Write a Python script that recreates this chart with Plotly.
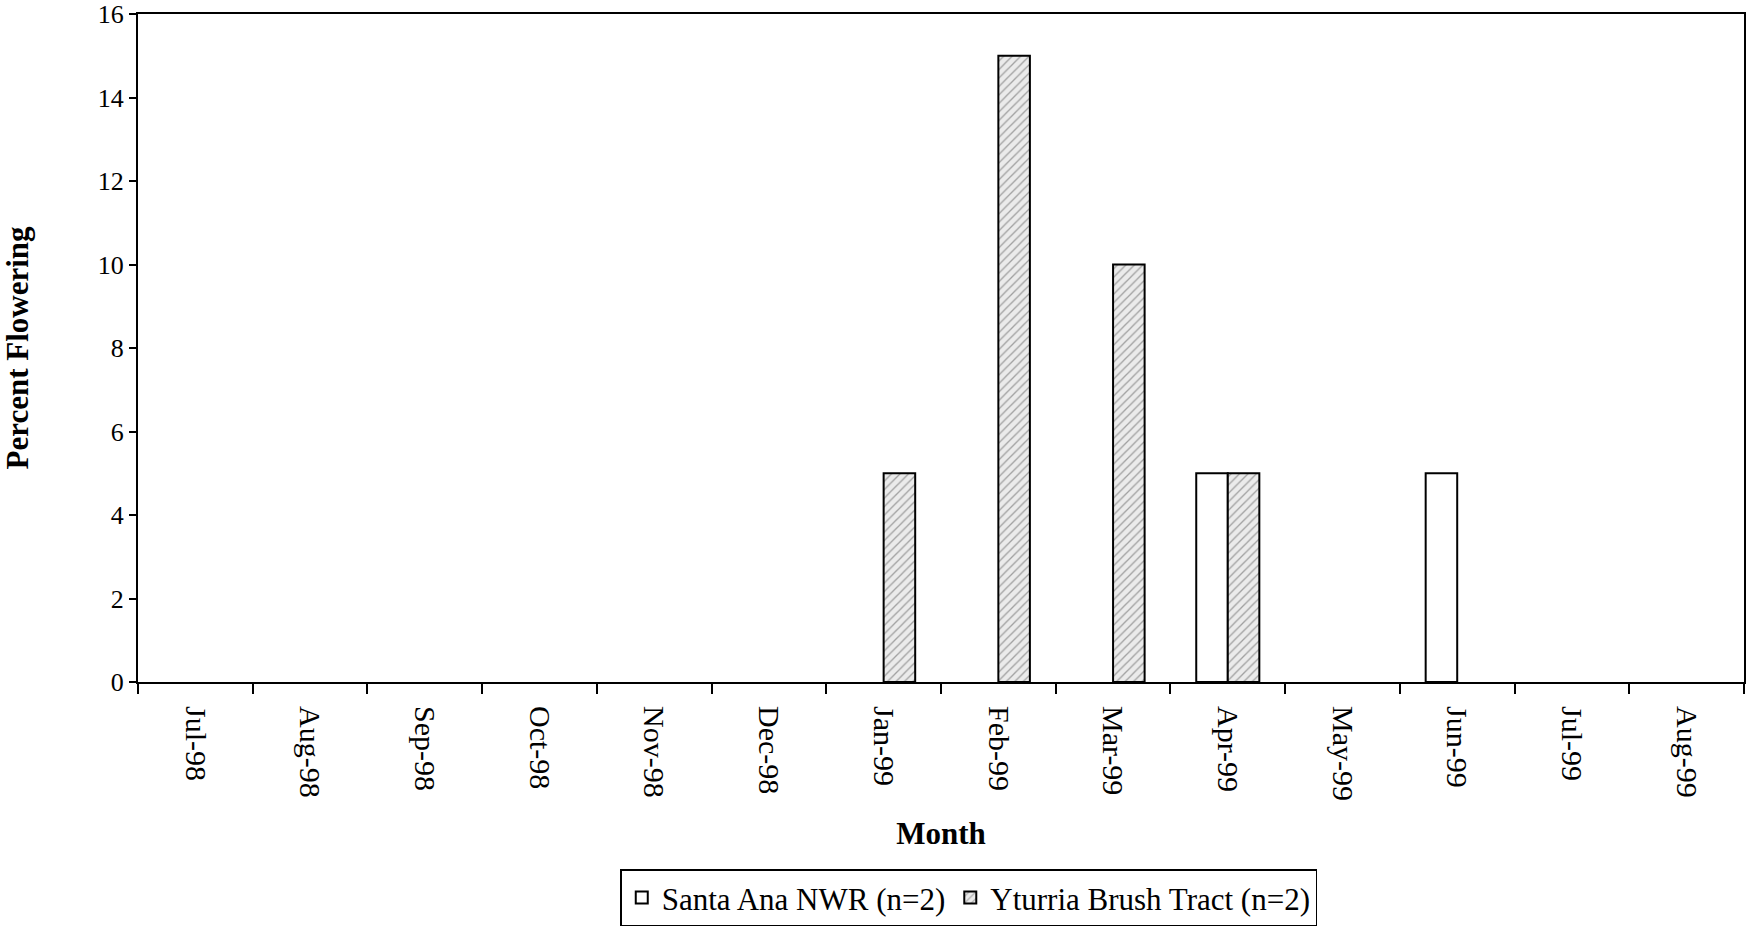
import plotly.graph_objects as go

# Monthly flowering observations, Jul-98 through Aug-99
months = ["Jul-98", "Aug-98", "Sep-98", "Oct-98", "Nov-98", "Dec-98", "Jan-99",
          "Feb-99", "Mar-99", "Apr-99", "May-99", "Jun-99", "Jul-99", "Aug-99"]
santa_ana = [0, 0, 0, 0, 0, 0, 0, 0, 0, 5, 0, 5, 0, 0]
yturria = [0, 0, 0, 0, 0, 0, 5, 15, 10, 5, 0, 0, 0, 0]
y_ticks = [0, 2, 4, 6, 8, 10, 12, 14, 16]

serif = "Liberation Serif, Times New Roman, serif"


def bars(values):
    # months with no flowering get no bar at all (nothing drawn on the baseline)
    return [v if v else None for v in values]


fig = go.Figure()
fig.add_trace(go.Bar(
    x=months, y=bars(santa_ana), name="Santa Ana NWR (n=2)",
    marker=dict(color="white", line=dict(color="black", width=2)),
))
fig.add_trace(go.Bar(
    x=months, y=bars(yturria), name="Yturria Brush Tract (n=2)",
    marker=dict(
        color="#e4e4e4",
        line=dict(color="black", width=2),
        pattern=dict(shape="/", fgcolor="#555555", bgcolor="#ebebeb",
                     size=6, solidity=0.22),
    ),
))

fig.update_layout(
    width=1755, height=930,
    margin=dict(l=138, r=11, t=14, b=248, autoexpand=False),
    paper_bgcolor="white", plot_bgcolor="white",
    barmode="group", bargap=0.45, bargroupgap=0,
    font=dict(family=serif, color="black", size=24),
    showlegend=True,
    legend=dict(
        orientation="h", xref="container", x=0.552, xanchor="center",
        yref="container", y=0.004, yanchor="bottom",
        bordercolor="black", borderwidth=1.5, font=dict(size=31),
        itemwidth=30, traceorder="normal", tracegroupgap=0,
    ),
)

fig.update_xaxes(
    type="category", tickson="boundaries", tickangle=90,
    ticks="outside", ticklen=10, tickwidth=2, tickcolor="black",
    ticklabelstandoff=16,
    showline=True, linecolor="black", linewidth=2, mirror=True,
    showgrid=False, tickfont=dict(size=30), automargin=False,
    title=dict(text="<b>Month</b>", font=dict(size=31), standoff=22),
)
fig.update_yaxes(
    range=[0, 16], tickvals=y_ticks,
    ticks="outside", ticklen=7, tickwidth=2, tickcolor="black",
    showline=True, linecolor="black", linewidth=2, mirror=True,
    showgrid=False, zeroline=False, tickfont=dict(size=26), automargin=False,
    title=dict(text="<b>Percent Flowering</b>", font=dict(size=31), standoff=64),
)

fig.write_html("out.html")
